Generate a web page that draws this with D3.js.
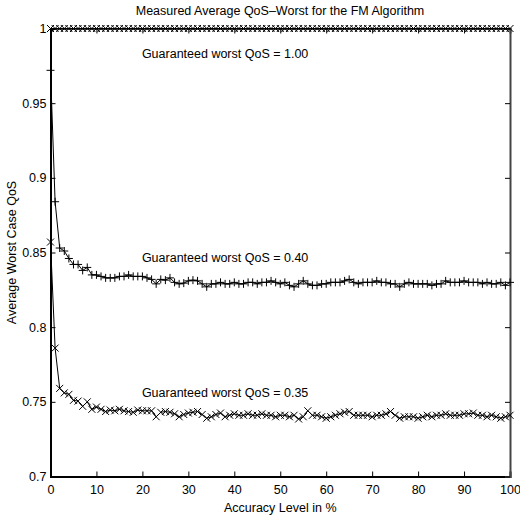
<!DOCTYPE html>
<html>
<head>
<meta charset="utf-8">
<script src="https://cdn.jsdelivr.net/npm/d3@7"></script>
<style>
  html, body { margin: 0; padding: 0; background: #fff; }
  text { font-family: "Liberation Sans", Arial, Helvetica, sans-serif; }
</style>
</head>
<body>
<svg id="chart" width="520" height="521"></svg>
<script>
// ---- data ----
const accuracy = [0,1,2,3,4,5,6,7,8,9,10,11,12,13,14,15,16,17,18,19,20,21,22,23,24,25,26,27,28,29,30,31,32,33,34,35,36,37,38,39,40,41,42,43,44,45,46,47,48,49,50,51,52,53,54,55,56,57,58,59,60,61,62,63,64,65,66,67,68,69,70,71,72,73,74,75,76,77,78,79,80,81,82,83,84,85,86,87,88,89,90,91,92,93,94,95,96,97,98,99,100];

const qos100 = [1,1,1,1,1,1,1,1,1,1,1,1,1,1,1,1,1,1,1,1,1,1,1,1,1,1,1,1,1,1,1,1,1,1,1,1,1,1,1,1,1,1,1,1,1,1,1,1,1,1,1,1,1,1,1,1,1,1,1,1,1,1,1,1,1,1,1,1,1,1,1,1,1,1,1,1,1,1,1,1,1,1,1,1,1,1,1,1,1,1,1,1,1,1,1,1,1,1,1,1,1];

const qos040 = [0.972,0.884,0.853,0.851,0.846,0.842,0.842,0.838,0.840,0.835,0.835,0.834,0.833,0.833,0.833,0.834,0.834,0.835,0.834,0.834,
  0.834,0.833,0.832,0.829,0.832,0.8315,0.833,0.830,0.829,0.8295,0.831,0.8315,0.831,0.829,0.827,0.829,0.829,0.830,0.829,0.829,
  0.830,0.829,0.829,0.830,0.830,0.829,0.830,0.830,0.831,0.830,0.829,0.830,0.828,0.827,0.829,0.831,0.829,0.828,0.828,0.829,
  0.829,0.830,0.830,0.830,0.831,0.832,0.830,0.829,0.830,0.830,0.830,0.831,0.830,0.830,0.829,0.829,0.827,0.829,0.830,0.829,
  0.829,0.829,0.829,0.828,0.829,0.829,0.831,0.830,0.830,0.830,0.831,0.830,0.830,0.830,0.829,0.830,0.829,0.829,0.830,0.828,0.830];

const qos035 = [0.857,0.786,0.759,0.756,0.755,0.751,0.7505,0.747,0.750,0.745,0.7465,0.745,0.7435,0.7445,0.744,0.745,0.744,0.7435,0.743,0.7445,
  0.744,0.744,0.744,0.740,0.743,0.7435,0.743,0.742,0.740,0.7415,0.7425,0.743,0.7435,0.7415,0.739,0.740,0.7415,0.7425,0.740,0.741,
  0.742,0.741,0.741,0.742,0.741,0.741,0.742,0.741,0.741,0.740,0.741,0.741,0.740,0.741,0.7385,0.740,0.744,0.741,0.741,0.740,
  0.739,0.740,0.741,0.742,0.743,0.7435,0.741,0.741,0.741,0.741,0.740,0.741,0.741,0.742,0.7435,0.741,0.739,0.740,0.740,0.740,
  0.739,0.740,0.741,0.740,0.741,0.741,0.742,0.741,0.741,0.741,0.742,0.742,0.7425,0.741,0.741,0.740,0.741,0.740,0.739,0.740,0.741];

const xTicks = [0,10,20,30,40,50,60,70,80,90,100];
const yTicks = [0.7,0.75,0.8,0.85,0.9,0.95,1];

const titleText = "Measured Average QoS\u2013Worst for the FM Algorithm";
const xLabel = "Accuracy Level in %";
const yLabel = "Average Worst Case QoS";
const annotations = [
  { text: "Guaranteed worst QoS = 1.00", x: 20, y: 0.98 },
  { text: "Guaranteed worst QoS = 0.40", x: 20, y: 0.8435 },
  { text: "Guaranteed worst QoS = 0.35", x: 20, y: 0.7535 }
];

// ---- layout ----
const L = 50.5, R = 510, T = 28.5, B = 476.5;
const FS = "12.5px";
const svg = d3.select("#chart");
const x = d3.scaleLinear().domain([0, 100]).range([L, R]);
const y = d3.scaleLinear().domain([0.7, 1]).range([B, T]);

const fmt = d => String(+d.toFixed(2));

// axes (MATLAB style: inward ticks)
const tickLen = 5;
const gB = svg.append("g").attr("transform", `translate(0,${B})`)
  .call(d3.axisBottom(x).tickValues(xTicks).tickSize(-tickLen).tickPadding(9).tickFormat(d3.format("d")));
const gT = svg.append("g").attr("transform", `translate(0,${T})`)
  .call(d3.axisTop(x).tickValues(xTicks).tickSize(-tickLen).tickFormat(""));
const gL = svg.append("g").attr("transform", `translate(${L},0)`)
  .call(d3.axisLeft(y).tickValues(yTicks).tickSize(-tickLen).tickPadding(4).tickFormat(fmt));
const gR = svg.append("g").attr("transform", `translate(${R},0)`)
  .call(d3.axisRight(y).tickValues(yTicks).tickSize(-tickLen).tickFormat(""));

[gB, gT, gL, gR].forEach(g => {
  g.selectAll(".domain").attr("stroke", "#000").attr("stroke-width", 2);
  g.selectAll(".tick line").attr("stroke", "#000").attr("stroke-width", 1);
  g.selectAll(".tick text").attr("fill", "#000").style("font-size", FS)
    .style("font-family", "'Liberation Sans', Arial, sans-serif");
});
gR.select(".domain").attr("stroke", "#444");
gT.select(".domain").attr("stroke", "#444");

// series
const line = d3.line().x((d, i) => x(accuracy[i])).y(d => y(d));
function drawSeries(vals, marker) {
  svg.append("path").attr("d", line(vals)).attr("fill", "none")
    .attr("stroke", "#000").attr("stroke-width", 1);
  const s = 3.5;
  const g = svg.append("g").attr("stroke", "#000").attr("stroke-width", 1).attr("fill", "none");
  vals.forEach((v, i) => {
    const cx = x(accuracy[i]), cy = y(v);
    if (marker === "x") {
      g.append("path").attr("d", `M${cx - s},${cy - s}L${cx + s},${cy + s}M${cx - s},${cy + s}L${cx + s},${cy - s}`);
    } else {
      g.append("path").attr("d", `M${cx - s - 0.5},${cy}L${cx + s + 0.5},${cy}M${cx},${cy - s - 0.5}L${cx},${cy + s + 0.5}`);
    }
  });
}
drawSeries(qos100, "x");
drawSeries(qos040, "+");
drawSeries(qos035, "x");

// annotations
svg.append("g").selectAll("text").data(annotations).join("text")
  .attr("x", d => x(d.x) - 0.5).attr("y", d => y(d.y))
  .style("font-size", FS).attr("fill", "#000").text(d => d.text);

// title and labels
svg.append("text").attr("x", 280).attr("y", 15).attr("text-anchor", "middle")
  .style("font-size", FS).attr("fill", "#000").text(titleText);
svg.append("text").attr("x", (L + R) / 2).attr("y", 512).attr("text-anchor", "middle")
  .style("font-size", FS).attr("fill", "#000").text(xLabel);
svg.append("text").attr("transform", `translate(16,${(T + B) / 2}) rotate(-90)`)
  .attr("text-anchor", "middle").style("font-size", FS).attr("fill", "#000").text(yLabel);
</script>
</body>
</html>
